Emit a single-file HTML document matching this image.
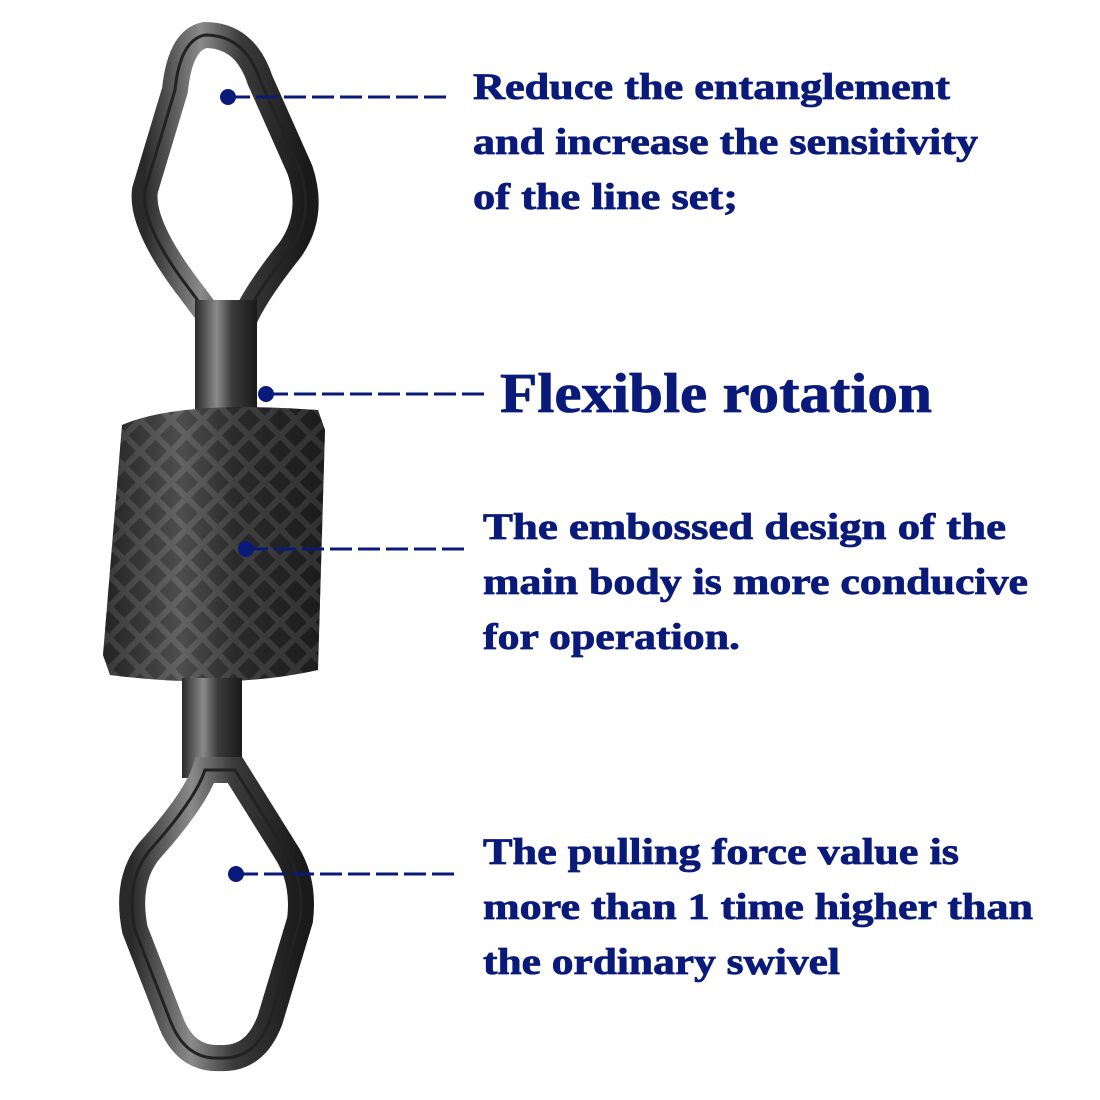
<!DOCTYPE html>
<html><head><style>html,body{margin:0;padding:0;background:#fff;}svg{display:block}</style></head>
<body>
<svg width="1100" height="1100" viewBox="0 0 1100 1100" xmlns="http://www.w3.org/2000/svg">
<defs>
<linearGradient id="metal" x1="0" x2="1" y1="0" y2="0">
<stop offset="0" stop-color="#2a2a2a"/><stop offset="0.35" stop-color="#8a8a8a"/><stop offset="0.6" stop-color="#3a3a3a"/><stop offset="1" stop-color="#1a1a1a"/>
</linearGradient>
<pattern id="knurl" width="22" height="22" patternUnits="userSpaceOnUse" patternTransform="rotate(45)">
<rect width="22" height="22" fill="#444"/><rect x="3" y="3" width="16" height="16" fill="#1c1c1c"/>
</pattern>
</defs>
<path d="M205,35 Q180,40 175,90 L145,190 Q140,225 190,290 L220,330 L240,330 Q250,300 290,250 Q315,215 300,170 L260,80 Q245,35 205,35 Z" fill="none" stroke="url(#metal)" stroke-width="26"/>
<path d="M205,35 Q180,40 175,90 L145,190 Q140,225 190,290 L220,330 L240,330 Q250,300 290,250 Q315,215 300,170 L260,80 Q245,35 205,35 Z" fill="none" stroke="#222" stroke-width="3"/>
<rect x="195" y="300" width="62" height="115" fill="url(#metal)"/>
<path d="M122,425 Q180,400 318,410 L325,430 L318,670 Q230,690 110,675 L103,655 Z" fill="url(#knurl)"/>
<path d="M122,425 Q180,400 318,410 L325,430 L318,670 Q230,690 110,675 L103,655 Z" fill="url(#metal)" opacity="0.45"/>
<rect x="182" y="678" width="60" height="100" fill="url(#metal)"/>
<path d="M205,770 Q195,800 150,850 Q125,880 135,930 L170,1020 Q185,1060 220,1058 Q255,1060 270,1020 L300,920 Q305,880 285,850 L235,770 Z" fill="none" stroke="url(#metal)" stroke-width="26"/>
<path d="M205,770 Q195,800 150,850 Q125,880 135,930 L170,1020 Q185,1060 220,1058 Q255,1060 270,1020 L300,920 Q305,880 285,850 L235,770 Z" fill="none" stroke="#222" stroke-width="3"/>
<g stroke="#0a1a7a" stroke-width="3" stroke-dasharray="22,6" fill="none">
<line x1="228" y1="97" x2="447" y2="97"/>
<line x1="266" y1="394" x2="488" y2="394"/>
<line x1="246" y1="549" x2="466" y2="549"/>
<line x1="236" y1="874" x2="458" y2="874"/>
</g>
<g fill="#0a1a7a">
<circle cx="228" cy="97" r="8"/><circle cx="266" cy="394" r="8"/><circle cx="246" cy="549" r="8"/><circle cx="236" cy="874" r="8"/>
</g>
<g fill="#0a1a7a" stroke="#0a1a7a" stroke-width="0.8" font-family="Liberation Serif, serif" font-weight="bold" font-size="37">
<text x="473" y="99" textLength="477" lengthAdjust="spacingAndGlyphs">Reduce the entanglement</text>
<text x="473" y="154" textLength="505" lengthAdjust="spacingAndGlyphs">and increase the sensitivity</text>
<text x="473" y="209" textLength="265" lengthAdjust="spacingAndGlyphs">of the line set;</text>
<text x="500" y="412" font-size="56" textLength="432" lengthAdjust="spacingAndGlyphs">Flexible rotation</text>
<text x="483" y="539" textLength="523" lengthAdjust="spacingAndGlyphs">The embossed design of the</text>
<text x="483" y="594" textLength="545" lengthAdjust="spacingAndGlyphs">main body is more conducive</text>
<text x="483" y="649" textLength="257" lengthAdjust="spacingAndGlyphs">for operation.</text>
<text x="483" y="864" textLength="476" lengthAdjust="spacingAndGlyphs">The pulling force value is</text>
<text x="483" y="919" textLength="550" lengthAdjust="spacingAndGlyphs">more than 1 time higher than</text>
<text x="483" y="974" textLength="357" lengthAdjust="spacingAndGlyphs">the ordinary swivel</text>
</g>
</svg>
</body></html>
